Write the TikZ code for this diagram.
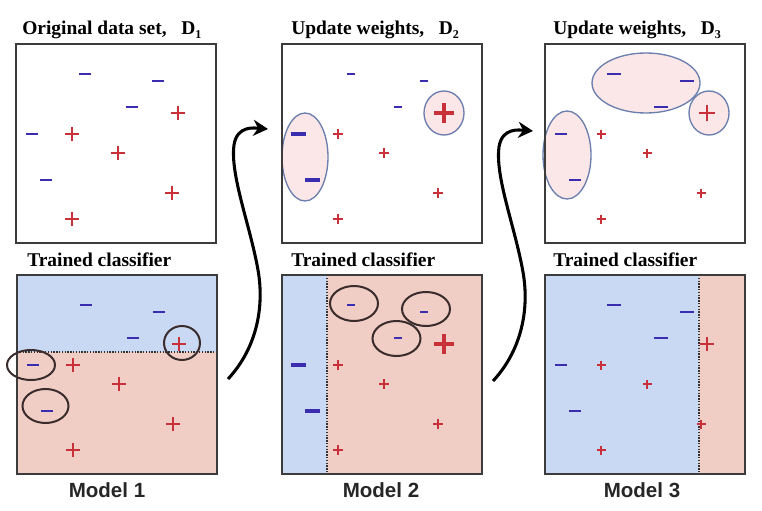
\documentclass[tikz,border=0pt]{standalone}
\usepackage{fontspec}
\setmainfont{Liberation Serif}
\newfontfamily\sansf{Liberation Sans}
\usetikzlibrary{arrows.meta}
\definecolor{mcol}{HTML}{3A2DB0}
\definecolor{pcol}{HTML}{C8303A}
\definecolor{bluebg}{HTML}{C9D9F4}
\definecolor{pinkbg}{HTML}{F0CEC5}
\definecolor{ellfill}{HTML}{FBE7E7}
\definecolor{elldraw}{HTML}{6B7FAE}
\definecolor{framec}{HTML}{3C3C3C}
\definecolor{ringc}{HTML}{3A2C2C}
\newcommand\Mn[4]{\draw[mcol,line width=#4] (#1,#2) ++(-#3,0) -- ++(2*#3,0);}
\newcommand\Pl[4]{\draw[pcol,line width=#4] (#1,#2) ++(-#3,0) -- ++(2*#3,0) (#1,#2) ++(0,-#3) -- ++(0,2*#3);}
\newcommand\dataset[8]{%
 \Mn{69}{30}{#1}{#2}\Mn{142}{37}{#1}{#2}\Mn{116}{63}{#1}{#2}%
 \Mn{16}{90}{#3}{#4}\Mn{30}{136}{#3}{#4}%
 \Pl{162}{69}{#5}{#6}%
 \Pl{56}{90}{#7}{#8}\Pl{102}{109}{#7}{#8}\Pl{156}{149}{#7}{#8}\Pl{56}{175}{#7}{#8}}
\newcommand\Dsub[1]{\hspace{0.75em}D\raisebox{-0.35ex}{\fontsize{9}{9}\selectfont #1}}
\begin{document}
\begin{tikzpicture}[x=0.75pt,y=-0.75pt,
  frame/.style={draw=framec,line width=1.5pt},
  title/.style={anchor=base west,inner sep=0pt,font=\fontsize{14.6}{16}\selectfont\bfseries},
  model/.style={anchor=base,inner sep=0pt,font=\sansf\fontsize{15.4}{18}\selectfont\bfseries,text=black!85},
  wellipse/.style={fill=ellfill,draw=elldraw,line width=1pt},
  ring/.style={draw=ringc,line width=1.5pt},
  divider/.style={draw=black!80,line width=1.1pt,densely dotted},
  bigarrow/.style={line width=2.3pt,-{Stealth[length=11pt,width=12pt]}}]
\useasboundingbox[fill=white] (0,0) rectangle (762,510);
% titles
\node[title] (t1) at (22,35) {Original data set,\Dsub{1}};
\node[title] (t2) at (291,35) {Update weights,\Dsub{2}};
\node[title] (t3) at (553,35) {Update weights,\Dsub{3}};
\node[title] (c1) at (27,266) {Trained classifier};
\node[title] (c2) at (291,266) {Trained classifier};
\node[title] (c3) at (553,266) {Trained classifier};
% top box 1
\begin{scope}[shift={(16,44)}]
  \dataset{6}{1.9pt}{6}{1.9pt}{7}{1.9pt}{7}{1.9pt}
  \draw[frame] (0,0) rectangle (200,199);
\end{scope}
% top box 2
\begin{scope}[shift={(282,44)}]
  \draw[wellipse] (23,113) ellipse [x radius=23,y radius=44];
  \draw[wellipse] (162,69) ellipse [x radius=20,y radius=22];
  \dataset{4}{1.4pt}{7.5}{2.3pt}{10}{2.4pt}{5}{1.5pt}
  \draw[frame] (0,0) rectangle (200,199);
\end{scope}
% top box 3
\begin{scope}[shift={(545,44)}]
  \draw[wellipse] (101,39) ellipse [x radius=54,y radius=30];
  \draw[wellipse] (164,69) ellipse [x radius=20,y radius=22];
  \draw[wellipse] (22,111) ellipse [x radius=24,y radius=44];
  \dataset{7}{2.2pt}{6}{1.9pt}{8}{2pt}{4.5}{1.4pt}
  \draw[frame] (0,0) rectangle (200,199);
\end{scope}
% bottom box 1
\begin{scope}[shift={(17,275)}]
  \fill[bluebg] (0,0) rectangle (200,77);
  \fill[pinkbg] (0,77) rectangle (200,199);
  \draw[divider] (0,77) -- (200,77);
  \dataset{6}{1.9pt}{6}{1.9pt}{7}{1.9pt}{7}{1.9pt}
  \draw[frame] (0,0) rectangle (200,199);
\end{scope}
\draw[ring] (182,343) ellipse [x radius=18,y radius=17];
\draw[ring] (31,365) ellipse [x radius=24,y radius=15];
\draw[ring] (45.5,406) ellipse [x radius=23,y radius=17];
% bottom box 2
\begin{scope}[shift={(282,275)}]
  \fill[bluebg] (0,0) rectangle (45,199);
  \fill[pinkbg] (45,0) rectangle (200,199);
  \draw[divider] (45,0) -- (45,199);
  \dataset{4}{1.4pt}{7.5}{2.3pt}{10}{2.4pt}{5}{1.5pt}
  \draw[frame] (0,0) rectangle (200,199);
\end{scope}
\draw[ring] (354,303.5) ellipse [x radius=24,y radius=17.5];
\draw[ring] (426,309) ellipse [x radius=24,y radius=17];
\draw[ring] (396.5,338.5) ellipse [x radius=24,y radius=17.5];
% bottom box 3
\begin{scope}[shift={(545,275)}]
  \fill[bluebg] (0,0) rectangle (154,199);
  \fill[pinkbg] (154,0) rectangle (200,199);
  \draw[divider] (154,0) -- (154,199);
  \dataset{7}{2.2pt}{6}{1.9pt}{7}{2.2pt}{4.5}{1.4pt}
  \draw[frame] (0,0) rectangle (200,199);
\end{scope}
% model labels
\node[model] (m1) at (107,497) {Model 1};
\node[model] (m2) at (381,497) {Model 2};
\node[model] (m3) at (642,497) {Model 3};
% arrows
\coordinate (a1s) at (228,379);
\coordinate (a1e) at (268,129);
\coordinate (a2s) at (493,381);
\coordinate (a2e) at (533,131);
\draw[bigarrow] (a1s) .. controls (255,350) and (265,310) .. (258,270)
  .. controls (250,225) and (230,175) .. (234,145)
  .. controls (237,125) and (255,128) .. (a1e);
\draw[bigarrow] (a2s) .. controls (520,352) and (530,312) .. (523,272)
  .. controls (515,227) and (495,177) .. (499,147)
  .. controls (502,127) and (520,130) .. (a2e);
\end{tikzpicture}
\end{document}
